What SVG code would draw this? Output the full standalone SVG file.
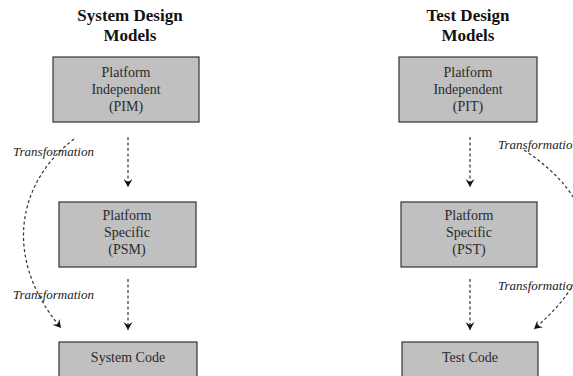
<svg xmlns="http://www.w3.org/2000/svg" width="573" height="376" viewBox="0 0 573 376">
<style>
.title{font-family:"Liberation Serif",serif;font-weight:bold;font-size:17px;fill:#111;text-anchor:middle}
.box{fill:#c0c0c0;stroke:#333;stroke-width:1.2}
.lbl{font-family:"Liberation Serif",serif;font-size:14px;fill:#2a2a2a;text-anchor:middle}
.tr{font-family:"Liberation Serif",serif;font-style:italic;font-size:13px;fill:#222}
.con{fill:none;stroke:#333;stroke-width:1.2;stroke-dasharray:3 2.5}
</style>
<defs>
<marker id="ah" markerUnits="userSpaceOnUse" markerWidth="12" markerHeight="12" refX="0" refY="0" viewBox="-9 -6 12 12" orient="auto">
<path d="M0,0 L-8,-4.5 L-5,0 L-8,4.5 Z" fill="#111"/>
</marker>
</defs>
<g id="titles">
<text class="title" x="130" y="21">System Design</text>
<text class="title" x="130" y="41">Models</text>
<text class="title" x="468" y="21">Test Design</text>
<text class="title" x="468" y="41">Models</text>
</g>
<g id="pim">
<rect class="box" x="53" y="57" width="146" height="65"/>
<text class="lbl" x="126" y="77">Platform</text>
<text class="lbl" x="126" y="94">Independent</text>
<text class="lbl" x="126" y="111">(PIM)</text>
</g>
<g id="psm">
<rect class="box" x="59" y="202" width="137" height="65"/>
<text class="lbl" x="127" y="220">Platform</text>
<text class="lbl" x="127" y="237">Specific</text>
<text class="lbl" x="127" y="254">(PSM)</text>
</g>
<g id="syscode">
<rect class="box" x="59" y="342" width="138" height="45"/>
<text class="lbl" x="128" y="362">System Code</text>
</g>
<g id="pit">
<rect class="box" x="399" y="57" width="138" height="65"/>
<text class="lbl" x="468" y="77">Platform</text>
<text class="lbl" x="468" y="94">Independent</text>
<text class="lbl" x="468" y="111">(PIT)</text>
</g>
<g id="pst">
<rect class="box" x="401" y="202" width="136" height="65"/>
<text class="lbl" x="469" y="220">Platform</text>
<text class="lbl" x="469" y="237">Specific</text>
<text class="lbl" x="469" y="254">(PST)</text>
</g>
<g id="testcode">
<rect class="box" x="402" y="342" width="136" height="45"/>
<text class="lbl" x="470" y="362">Test Code</text>
</g>
<g id="connectors">
<path class="con" d="M128,137 L128,187" marker-end="url(#ah)"/>
<path class="con" d="M128,279 L128,330" marker-end="url(#ah)"/>
<path class="con" d="M470,137 L470,187" marker-end="url(#ah)"/>
<path class="con" d="M470,279 L470,330" marker-end="url(#ah)"/>
<path class="con" d="M74,139 C20,180 0,255 61,328" marker-end="url(#ah)"/>
<path class="con" d="M524,150 C600,200 610,265 534,329" marker-end="url(#ah)"/>
</g>
<g id="labels">
<text class="tr" x="13" y="156">Transformation</text>
<text class="tr" x="13" y="299">Transformation</text>
<text class="tr" x="498" y="149">Transformatio</text>
<text class="tr" x="498" y="290">Transformatio</text>
</g>
</svg>
